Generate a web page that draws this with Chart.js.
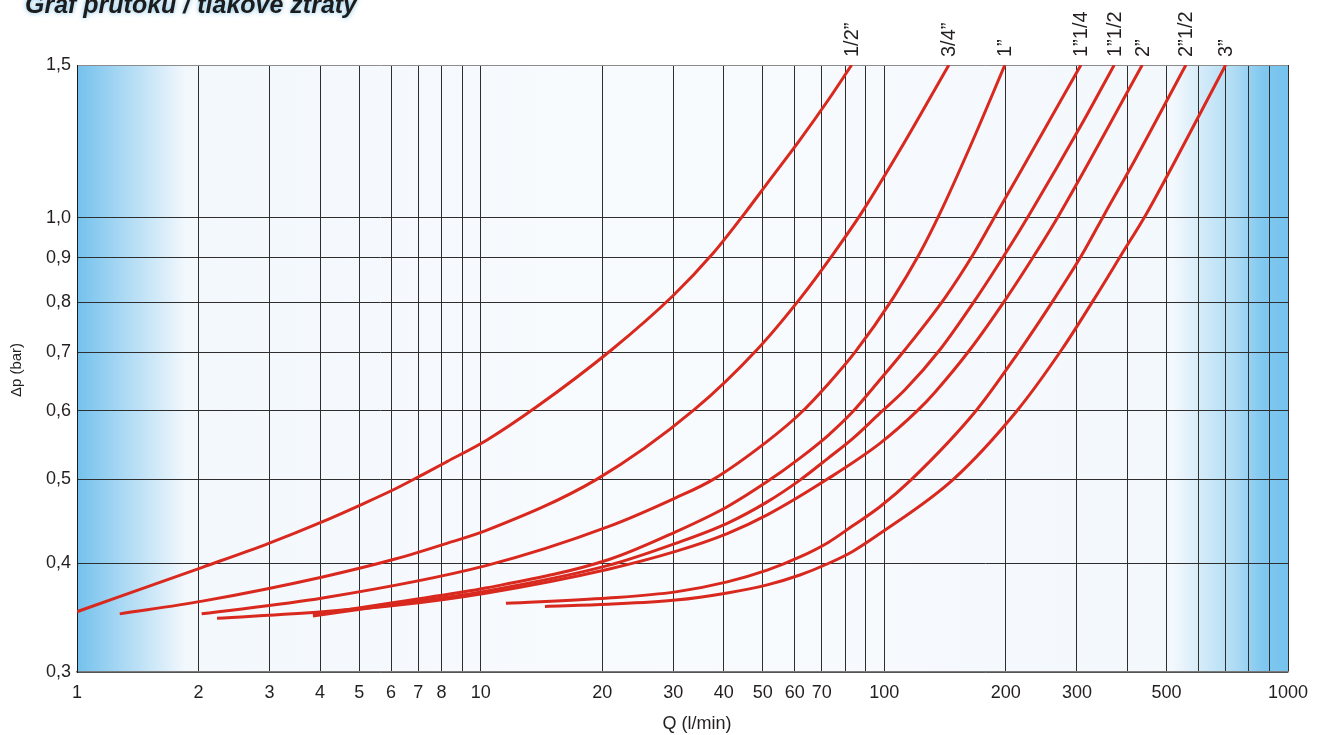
<!DOCTYPE html>
<html>
<head>
<meta charset="utf-8">
<title>Graf průtoku / tlakové ztráty</title>
<script src="https://cdn.jsdelivr.net/npm/chart.js@4.4.1/dist/chart.umd.min.js"></script>
<style>
  html, body { margin: 0; padding: 0; background: #fff; }
  #wrap { width: 1323px; height: 735px; }
</style>
</head>
<body>
<div id="wrap"><canvas id="flowChart" width="1323" height="735"></canvas></div>
<script>
const chartTitle = "Graf průtoku / tlakové ztráty";
const xTitle = "Q (l/min)";
const yTitle = "Δp (bar)";

// pipe sizes, one curve each
const pipeSizes = ["1/2”", "3/4”", "1”", "1”1/4", "1”1/2", "2”", "2”1/2", "3”"];

// flow Q (l/min) and pressure loss dp (bar)
const q12 = [1, 2.044, 2.985, 4.061, 5.082, 6.169, 7.225, 8.251, 10.37, 13.76, 21.11, 29.91, 37.69, 45.15, 51.27, 61.79, 72.62, 82.99];
const dp12 = [0.352, 0.396, 0.422, 0.447, 0.468, 0.488, 0.507, 0.524, 0.555, 0.606, 0.705, 0.813, 0.911, 1.013, 1.096, 1.230, 1.367, 1.5];

const q34 = [1.276, 2.044, 4.061, 6.169, 8.251, 10.37, 19.38, 33.76, 48.35, 62.04, 74.61, 87.66, 109.3, 144.5];
const dp34 = [0.350, 0.362, 0.386, 0.405, 0.422, 0.437, 0.500, 0.601, 0.705, 0.809, 0.908, 1.012, 1.197, 1.5];

const q1 = [2.036, 4.061, 10.37, 20.71, 30.41, 37.69, 51.27, 61.79, 72.62, 84.71, 105.2, 122.0, 137.3, 164.5, 198.9];
const dp1 = [0.350, 0.365, 0.398, 0.441, 0.476, 0.500, 0.553, 0.595, 0.644, 0.701, 0.809, 0.908, 1.012, 1.219, 1.5];

const q114 = [3.842, 6.169, 10.37, 20.71, 30.41, 40.82, 51.27, 61.79, 72.62, 83.47, 95.33, 112.5, 141.3, 166.1, 189.7, 213.9, 306.9];
const dp114 = [0.349, 0.361, 0.375, 0.404, 0.435, 0.465, 0.497, 0.529, 0.562, 0.598, 0.643, 0.705, 0.809, 0.908, 1.012, 1.115, 1.5];

const q112 = [3.842, 6.169, 10.37, 20.71, 30.41, 40.82, 51.27, 61.79, 72.62, 83.47, 97.52, 112.5, 137.3, 169.3, 198.9, 229.5, 309.2, 371.1];
const dp112 = [0.348, 0.359, 0.372, 0.398, 0.422, 0.445, 0.471, 0.499, 0.529, 0.557, 0.596, 0.634, 0.705, 0.809, 0.908, 1.012, 1.285, 1.5];

const q2 = [2.223, 4.061, 6.169, 10.37, 20.71, 30.41, 40.82, 51.27, 72.62, 97.52, 121.3, 133.5, 162.9, 200.9, 236.1, 272.3, 435.4];
const dp2 = [0.346, 0.352, 0.358, 0.370, 0.394, 0.413, 0.433, 0.455, 0.501, 0.550, 0.601, 0.630, 0.705, 0.809, 0.908, 1.012, 1.5];

const q212 = [11.55, 20.71, 30.41, 40.82, 51.27, 61.79, 72.62, 83.47, 97.52, 116.8, 169.3, 213.9, 264.6, 309.2, 351.9, 417.6, 558.5];
const dp212 = [0.360, 0.365, 0.371, 0.381, 0.393, 0.407, 0.423, 0.442, 0.465, 0.500, 0.601, 0.698, 0.809, 0.908, 1.012, 1.166, 1.5];

const q3 = [14.43, 20.71, 30.41, 40.82, 51.27, 61.79, 72.62, 83.47, 97.52, 148.2, 213.9, 274.9, 332.4, 387.1, 446.4, 526.8, 700.6];
const dp3 = [0.357, 0.359, 0.363, 0.370, 0.378, 0.388, 0.400, 0.413, 0.433, 0.500, 0.601, 0.705, 0.809, 0.908, 1.012, 1.166, 1.5];

// axis ticks
const xGrid = [1, 2, 3, 4, 5, 6, 7, 8, 9, 10, 20, 30, 40, 50, 60, 70, 80, 90, 100, 200, 300, 400, 500, 600, 700, 800, 900, 1000];
const xLabelled = [1, 2, 3, 4, 5, 6, 7, 8, 10, 20, 30, 40, 50, 60, 70, 100, 200, 300, 500, 1000];
const yTicks = [0.3, 0.4, 0.5, 0.6, 0.7, 0.8, 0.9, 1.0, 1.5];
const yTickLabels = ["0,3", "0,4", "0,5", "0,6", "0,7", "0,8", "0,9", "1,0", "1,5"];

const curves = [[q12, dp12], [q34, dp34], [q1, dp1], [q114, dp114], [q112, dp112], [q2, dp2], [q212, dp212], [q3, dp3]];

const fontFam = '"Liberation Sans", Arial, Helvetica, sans-serif';
const textColor = "#231f20";
const lineRed = "#d9291f";

const datasets = curves.map((c, i) => ({
    label: pipeSizes[i],
    data: c[0].map((q, k) => ({ x: q, y: c[1][k] })),
    showLine: true,
    borderColor: lineRed,
    borderWidth: 3,
    pointRadius: 0,
    cubicInterpolationMode: 'monotone'
}));

// blue fade on both ends of the plot area
const bgPlugin = {
    id: 'bg',
    beforeDraw(chart) {
        const a = chart.chartArea, ctx = chart.ctx;
        const g = ctx.createLinearGradient(a.left, 0, a.right, 0);
        g.addColorStop(0, '#74c1ed');
        g.addColorStop(0.035, '#a6d7f3');
        g.addColorStop(0.09, '#f3f8fd');
        g.addColorStop(0.5, '#f8fbfe');
        g.addColorStop(0.905, '#f3f8fd');
        g.addColorStop(0.955, '#b0dcf4');
        g.addColorStop(0.98, '#7fc7ef');
        g.addColorStop(1, '#76c3ee');
        ctx.save();
        ctx.fillStyle = g;
        ctx.fillRect(a.left, a.top, a.right - a.left, a.bottom - a.top);
        ctx.restore();
    }
};

// titles and the pipe size labels above the curve ends
const textPlugin = {
    id: 'texts',
    afterDraw(chart) {
        const ctx = chart.ctx, xs = chart.scales.x;
        ctx.save();
        ctx.fillStyle = textColor;

        ctx.font = '20px ' + fontFam;
        ctx.textAlign = 'left';
        ctx.textBaseline = 'middle';
        curves.forEach((c, i) => {
            const px = xs.getPixelForValue(c[0][c[0].length - 1]);
            ctx.save();
            ctx.translate(px + 1, 57);
            ctx.rotate(-Math.PI / 2);
            ctx.fillText(pipeSizes[i], 0, 0);
            ctx.restore();
        });

        ctx.font = '18px ' + fontFam;
        ctx.textAlign = 'center';
        ctx.fillText(xTitle, 697, 724);

        ctx.font = '15px ' + fontFam;
        ctx.save();
        ctx.translate(17, 370);
        ctx.rotate(-Math.PI / 2);
        ctx.fillText(yTitle, 0, 0);
        ctx.restore();

        ctx.font = 'italic bold 25px ' + fontFam;
        ctx.textAlign = 'left';
        ctx.textBaseline = 'alphabetic';
        ctx.shadowColor = 'rgba(110, 185, 230, 0.9)';
        ctx.shadowBlur = 5;
        ctx.fillStyle = '#1c1c1c';
        ctx.fillText(chartTitle, 25, 13);
        ctx.restore();
    }
};

new Chart(document.getElementById('flowChart'), {
    type: 'scatter',
    data: { datasets: datasets },
    options: {
        responsive: false,
        animation: false,
        devicePixelRatio: 1,
        layout: { padding: { top: 65, right: 35, left: 0, bottom: 0 } },
        plugins: { legend: { display: false }, tooltip: { enabled: false } },
        scales: {
            x: {
                type: 'logarithmic',
                min: 1,
                max: 1000,
                afterBuildTicks: s => { s.ticks = xGrid.map(v => ({ value: v })); },
                afterFit: s => { s.height = 63; },
                ticks: {
                    autoSkip: false,
                    maxRotation: 0,
                    padding: 10,
                    color: textColor,
                    font: { size: 18, family: fontFam },
                    callback: v => xLabelled.includes(v) ? String(v) : ''
                },
                grid: { color: '#2e2e2e', lineWidth: 1, drawTicks: false },
                border: { color: '#7a7a7a', width: 1.5 }
            },
            y: {
                type: 'logarithmic',
                min: 0.3,
                max: 1.5,
                afterBuildTicks: s => { s.ticks = yTicks.map(v => ({ value: v })); },
                afterFit: s => { s.width = 77; },
                ticks: {
                    padding: 6,
                    color: textColor,
                    font: { size: 18, family: fontFam },
                    callback: v => { const i = yTicks.indexOf(v); return i >= 0 ? yTickLabels[i] : ''; }
                },
                grid: {
                    color: c => (c.tick && c.tick.value === 1.5) ? '#8c8c8c' : '#2e2e2e',
                    lineWidth: 1,
                    drawTicks: false
                },
                border: { color: '#1a1a1a', width: 1 }
            }
        }
    },
    plugins: [bgPlugin, textPlugin]
});
</script>
</body>
</html>
